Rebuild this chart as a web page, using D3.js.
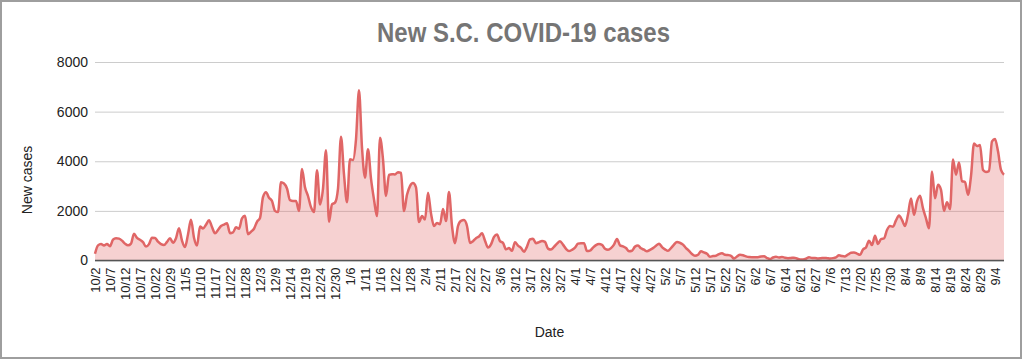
<!DOCTYPE html>
<html>
<head>
<meta charset="utf-8">
<script src="https://cdn.jsdelivr.net/npm/d3@7"></script>
<style>
  html, body { margin: 0; padding: 0; background: #fff; }
  svg { display: block; font-family: "Liberation Sans", Arial, sans-serif; }
</style>
</head>
<body>
<svg id="chart" width="1023" height="360"></svg>
<script>
// Tick labels: every 5th category
const tickLabels = ["10/2","10/7","10/12","10/17","10/22","10/29","11/5","11/10","11/17","11/22","11/28","12/3","12/9","12/14","12/19","12/24","12/30","1/6","1/11","1/16","1/22","1/28","2/4","2/11","2/17","2/22","2/27","3/6","3/12","3/17","3/22","3/27","4/1","4/7","4/12","4/17","4/22","4/27","5/2","5/7","5/12","5/17","5/22","5/27","6/2","6/7","6/14","6/21","6/27","7/6","7/13","7/20","7/25","7/30","8/4","8/9","8/14","8/19","8/24","8/29","9/4"];

// Daily new cases (one value per category)
const newCases = [
  270,610,660,600,660,575,840,900,880,800,
  680,610,680,1080,910,835,740,560,660,920,
  910,760,660,620,750,900,720,900,1300,800,
  540,1050,1640,920,600,1370,1290,1440,1620,1350,
  1100,1230,1390,1450,1500,1100,1130,1340,1280,1700,
  1800,1060,1160,1280,1560,1710,2550,2750,2530,2400,
  2000,1950,3150,3100,2900,2430,2400,2400,2000,3690,
  2950,2600,2150,1950,3640,2260,2900,4440,1560,2260,
  2330,2900,4990,3470,2350,4080,4050,4880,6860,4550,
  3340,4480,3300,2460,1790,4950,4080,2600,3450,3480,
  3470,3560,3530,1990,2650,3000,3120,2950,1550,1790,
  1650,2730,1900,1390,1510,1460,2080,1590,2760,1390,
  700,1390,1600,1630,1390,710,780,900,970,1100,
  800,520,650,950,1050,780,710,450,500,390,
  740,600,510,350,560,850,880,700,740,790,
  750,480,440,550,680,775,640,470,380,430,
  520,680,700,700,380,400,520,620,660,630,
  475,435,500,640,870,610,570,500,375,395,
  560,600,490,435,370,430,500,590,680,540,
  450,390,500,640,750,710,640,500,390,260,
  190,230,370,325,270,150,180,190,260,290,
  230,220,190,80,160,230,210,165,140,135,
  135,135,160,170,100,60,120,150,125,140,
  110,95,105,115,80,40,40,70,130,100,
  105,80,90,105,95,80,95,130,210,180,
  165,240,310,320,280,230,445,525,800,620,
  1000,660,865,890,1230,1390,1365,1620,1810,1635,
  1390,1850,2500,1840,2380,2610,2100,1700,1300,3590,
  2510,3050,2850,2000,2350,2070,4070,3460,3950,3200,
  3160,2650,3400,4715,4610,4650,3650,3570,3600,4800,
  4900,4400,3650,3460
];

const yTicks = [0, 2000, 4000, 6000, 8000];

const svg = d3.select("#chart");
const plotLeft = 95, plotRight = 1004, plotTop = 62, plotBottom = 260.5;

// outer border
svg.append("rect")
  .attr("x", 1).attr("y", 1).attr("width", 1020).attr("height", 357)
  .attr("fill", "#fff").attr("stroke", "#9e9e9e").attr("stroke-width", 2);

const x = d3.scaleLinear().domain([0, newCases.length - 1]).range([plotLeft, plotRight]);
const y = d3.scaleLinear().domain([0, 8000]).range([plotBottom, plotTop]);

// gridlines + y labels
const yAxis = d3.axisLeft(y).tickValues(yTicks).tickSize(-(plotRight - plotLeft)).tickPadding(8).tickFormat(d3.format("d"));
const gy = svg.append("g").attr("transform", `translate(${plotLeft},0)`).call(yAxis);
gy.select(".domain").remove();
gy.selectAll(".tick line").attr("stroke", "#cccccc").attr("stroke-width", 1);
gy.selectAll(".tick text").attr("fill", "#222").attr("font-size", 14).attr("x", -7);

// area + line
const area = d3.area()
  .x((d, i) => x(i)).y0(y(0)).y1(d => y(d))
  .curve(d3.curveMonotoneX);
const line = d3.line()
  .x((d, i) => x(i)).y(d => y(d))
  .curve(d3.curveMonotoneX);

svg.append("path").datum(newCases).attr("d", area)
  .attr("fill", "#e06666").attr("fill-opacity", 0.3);
svg.append("path").datum(newCases).attr("d", line)
  .attr("fill", "none").attr("stroke", "#e06666").attr("stroke-width", 2.5)
  .attr("stroke-linejoin", "round");

// baseline
svg.append("line").attr("x1", plotLeft).attr("x2", plotRight)
  .attr("y1", y(0)).attr("y2", y(0))
  .attr("stroke", "#555").attr("stroke-width", 1.5);

// x axis labels
const xAxis = d3.axisBottom(x)
  .tickValues(tickLabels.map((d, i) => i * 5))
  .tickSize(0)
  .tickFormat((d) => tickLabels[d / 5]);
const gx = svg.append("g").attr("transform", `translate(0,${plotBottom})`).call(xAxis);
gx.select(".domain").remove();
gx.selectAll(".tick text")
  .attr("fill", "#222").attr("font-size", 13)
  .attr("text-anchor", "end")
  .attr("transform", "rotate(-90)")
  .attr("x", -7).attr("y", 0).attr("dy", "0.35em");

// title
svg.append("text")
  .attr("x", 523.5).attr("y", 41.5)
  .attr("text-anchor", "middle")
  .attr("font-size", 27).attr("font-weight", "bold")
  .attr("fill", "#757575")
  .attr("textLength", 293).attr("lengthAdjust", "spacingAndGlyphs")
  .text("New S.C. COVID-19 cases");

// axis titles
svg.append("text")
  .attr("transform", "translate(32,180) rotate(-90)")
  .attr("text-anchor", "middle")
  .attr("font-size", 14).attr("fill", "#222")
  .text("New cases");

svg.append("text")
  .attr("x", (plotLeft + plotRight) / 2).attr("y", 337)
  .attr("text-anchor", "middle")
  .attr("font-size", 14).attr("fill", "#222")
  .text("Date");
</script>
</body>
</html>
